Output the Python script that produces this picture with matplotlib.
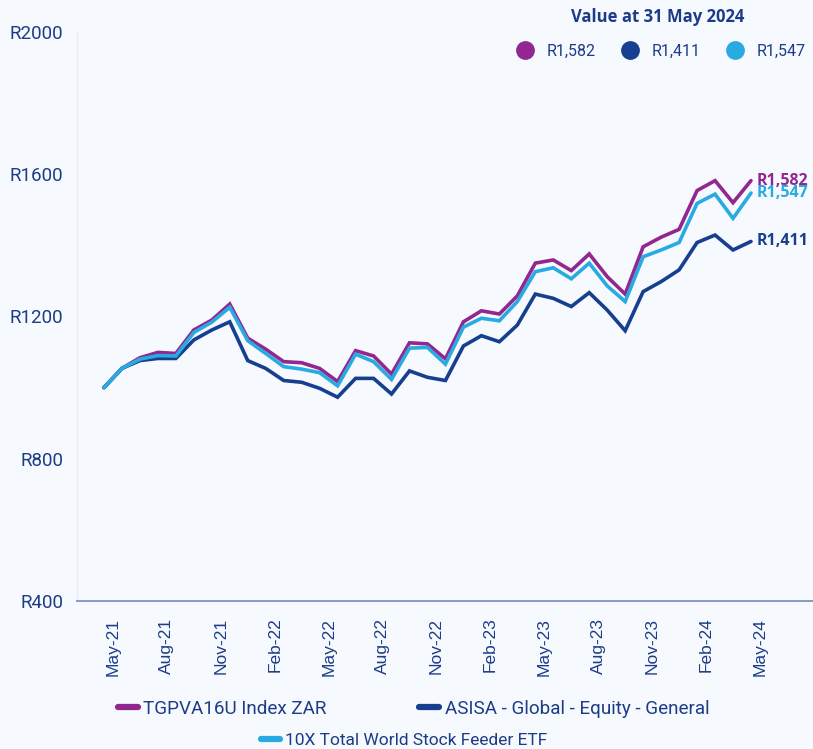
import matplotlib
matplotlib.use("Agg")
import matplotlib.pyplot as plt
import matplotlib.transforms as mtransforms
from matplotlib.lines import Line2D

# monthly values, May-21 .. May-24 (rebased to R1000)
tgpva = [1000, 1054, 1084, 1099, 1096, 1162, 1190, 1235, 1139, 1108, 1073, 1070,
         1054, 1017, 1104, 1089, 1038, 1126, 1123, 1081, 1185, 1216, 1207, 1258,
         1350, 1359, 1329, 1376, 1312, 1263, 1396, 1423, 1445, 1554, 1582, 1520, 1582]
asisa = [1000, 1054, 1076, 1082, 1082, 1134, 1162, 1185, 1076, 1054, 1020, 1015,
         998, 973, 1026, 1026, 982, 1047, 1029, 1020, 1117, 1146, 1129, 1176,
         1263, 1251, 1228, 1267, 1218, 1160, 1270, 1298, 1331, 1408, 1429, 1387, 1411]
etf10x = [1000, 1054, 1080, 1090, 1089, 1155, 1184, 1226, 1132, 1096, 1059, 1052,
          1042, 1005, 1094, 1073, 1023, 1111, 1113, 1066, 1170, 1195, 1188, 1242,
          1326, 1337, 1306, 1350, 1286, 1242, 1368, 1387, 1408, 1518, 1544, 1476, 1547]
tick_labels = ["May-21", "Aug-21", "Nov-21", "Feb-22", "May-22", "Aug-22", "Nov-22",
               "Feb-23", "May-23", "Aug-23", "Nov-23", "Feb-24", "May-24"]
y_ticks = [400, 800, 1200, 1600, 2000]
names = ["TGPVA16U Index ZAR", "ASISA - Global - Equity - General",
         "10X Total World Stock Feeder ETF"]
end_labels = ["R1,582", "R1,411", "R1,547"]

PURPLE = "#92278F"
NAVY = "#173F8F"
LIGHT = "#29ABE2"
TXT = "#1D3C87"
BG = "#F6F9FE"

fig = plt.figure(figsize=(8.13, 7.49), dpi=100, facecolor=BG)
ax = fig.add_axes([0.0947, 0.1976, 0.9053, 0.7597])
ax.set_facecolor(BG)

x = list(range(len(tgpva)))
series = [tgpva, asisa, etf10x]
colors = [PURPLE, NAVY, LIGHT]
for vals, c in zip(series, colors):
    ax.plot(x, vals, color=c, lw=2.6, solid_joinstyle="miter", solid_capstyle="round")

ax.set_xlim(-1.5, 39.45)
ax.set_ylim(400, 2000)

ax.set_yticks(y_ticks)
ax.set_yticklabels(["R%d" % v for v in y_ticks], fontfamily="Roboto", fontsize=13.5, color=TXT)
ax.tick_params(axis="y", length=0, pad=10)

ax.set_xticks(x[::3])
ax.set_xticklabels(tick_labels, rotation=90, fontfamily="Liberation Sans", fontsize=12.5,
                   color=TXT, ha="center", va="top")
ax.tick_params(axis="x", length=0, pad=12)
offset = mtransforms.ScaledTranslation(9 / 100, 0, fig.dpi_scale_trans)
for lbl in ax.get_xticklabels():
    lbl.set_transform(lbl.get_transform() + offset)

for s in ["top", "right"]:
    ax.spines[s].set_visible(False)
ax.spines["left"].set_color("#EAF0FA")
ax.spines["left"].set_linewidth(1)
ax.spines["bottom"].set_color("#7E93C2")
ax.spines["bottom"].set_linewidth(1.3)

# end-of-line value labels
for vals, c, t in zip(series, colors, end_labels):
    ax.annotate(t, (x[-1], vals[-1]), xytext=(4, 0), textcoords="offset points",
                ha="left", va="center", fontsize=11.5, fontweight="bold",
                fontfamily="Open Sans", color=c)

# "Value at" legend top right
fig.text(658 / 813, 1 - 17 / 749, "Value at 31 May 2024", ha="center", va="center",
         fontsize=12, fontweight="bold", fontfamily="Open Sans", color=TXT)
handles = [Line2D([], [], ls="none", marker="o", ms=12.5, color=c) for c in colors]
vleg = fig.legend(handles, end_labels, ncol=3, loc="center right",
                  bbox_to_anchor=(806 / 813, 1 - 51 / 749), frameon=False,
                  prop={"family": "Roboto", "size": 11.5}, handlelength=1.0,
                  handletextpad=0.9, columnspacing=1.6, borderaxespad=0, borderpad=0,
                  labelcolor=TXT)

# bottom legends
lh = [Line2D([], [], color=c, lw=4.5, solid_capstyle="round") for c in colors]
leg1 = fig.legend(lh[:2], names[:2], ncol=2, loc="center", bbox_to_anchor=(0.5086, 0.054),
                  frameon=False, prop={"family": "Roboto", "size": 13.6}, labelcolor=TXT,
                  handlelength=1.05, handletextpad=0.3, columnspacing=4.9)
leg2 = fig.legend(lh[2:], names[2:], loc="center", bbox_to_anchor=(0.497, 0.011),
                  frameon=False, prop={"family": "Roboto", "size": 12.5}, labelcolor=TXT,
                  handlelength=1.1, handletextpad=0.3)

fig.savefig("out.png", dpi=100, facecolor=BG)
